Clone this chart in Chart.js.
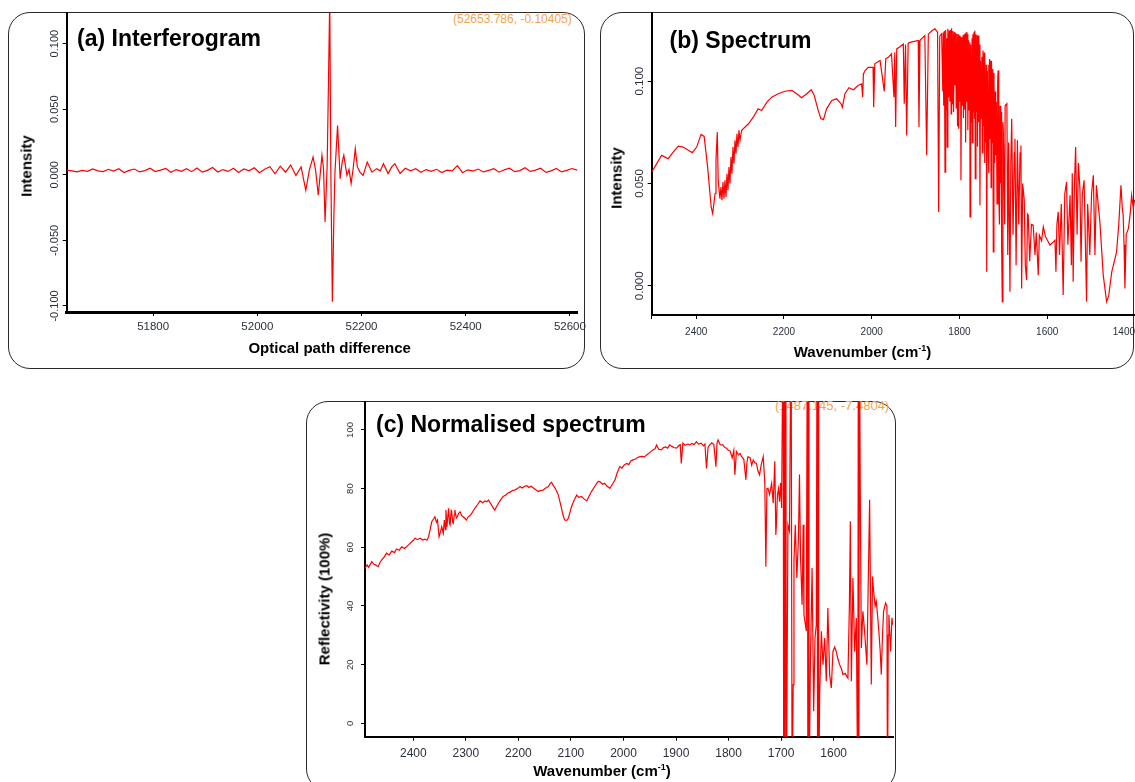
<!DOCTYPE html>
<html lang="en">
<head>
<meta charset="UTF-8">
<title>Interferogram, spectrum and normalised spectrum</title>
<script src="https://cdn.jsdelivr.net/npm/chart.js@4.4.1/dist/chart.umd.min.js"></script>
<style>
  body { margin: 0; background: #fff; font-family: 'Liberation Sans', Arial, sans-serif; }
  #page { position: relative; width: 1135px; height: 782px; overflow: hidden; }
  .frame { position: absolute; box-sizing: border-box; border: 1.5px solid #2a2a2a; border-radius: 22px; }
  canvas { position: absolute; }
  .label { position: absolute; line-height: 1; white-space: nowrap; color: #000; }
  .panel-title { font-size: 23px; font-weight: bold; }
  .axis-title { font-size: 15px; font-weight: bold; transform: translate(-50%, -50%); }
  .axis-title.vertical { transform: translate(-50%, -50%) rotate(-90deg); }
  .cursor { font-size: 12px; color: #f5a34a; }
  .sup { font-size: 9px; position: relative; top: -6px; }
</style>
</head>
<body>
<div id="page">
  <div class="frame" style="left:8px; top:12px; width:577px; height:357px;"></div>
  <div class="frame" style="left:600px; top:12px; width:534px; height:357px;"></div>
  <div class="frame" style="left:306px; top:400.5px; width:590px; height:390px;"></div>

  <div class="label cursor" style="left:453px; top:12.9px;">(52653.786, -0.10405)</div>
  <div class="label cursor" style="left:775px; top:399px; font-size:13px;">(1487.145, -7.4804)</div>

  <canvas id="chartA" width="590" height="369" style="left:8px; top:0;"></canvas>
  <canvas id="chartB" width="535" height="369" style="left:600px; top:0;"></canvas>
  <canvas id="chartC" width="590" height="397" style="left:306px; top:385px;"></canvas>

  <div class="label panel-title" style="left:77px; top:27.3px;">(a) Interferogram</div>
  <div class="label panel-title" style="left:669.6px; top:29px;">(b) Spectrum</div>
  <div class="label panel-title" style="left:376px; top:412.7px;">(c) Normalised spectrum</div>

  <div class="label axis-title" style="left:329.7px; top:347px;">Optical path difference</div>
  <div class="label axis-title vertical" style="left:26.1px; top:166px;">Intensity</div>
  <div class="label axis-title" style="left:862.5px; top:351.2px;">Wavenumber (cm<span class="sup">-1</span>)</div>
  <div class="label axis-title vertical" style="left:616.1px; top:177.7px;">Intensity</div>
  <div class="label axis-title" style="left:602px; top:770.4px;">Wavenumber (cm<span class="sup">-1</span>)</div>
  <div class="label axis-title vertical" style="left:324.4px; top:599.2px;">Reflectivity (100%)</div>
</div>

<script>
  // tick positions for every axis
  const opdTicks = [51800, 52000, 52200, 52400, 52600];
  const opdIntensityTicks = [-0.1, -0.05, 0, 0.05, 0.1];
  const specTicks = [1400, 1600, 1800, 2000, 2200, 2400];
  const specIntensityTicks = [0, 0.05, 0.1];
  const normTicks = [1600, 1700, 1800, 1900, 2000, 2100, 2200, 2300, 2400];
  const reflectivityTicks = [0, 20, 40, 60, 80, 100];

  // (a) interferogram: optical path difference vs detector intensity
  const opd = [
    51634, 51644, 51654, 51664, 51674, 51684, 51694, 51704, 51714, 51724,
    51734, 51744, 51754, 51764, 51774, 51784, 51794, 51804, 51814, 51824,
    51834, 51844, 51854, 51864, 51874, 51884, 51894, 51904, 51914, 51924,
    51934, 51944, 51954, 51964, 51974, 51984, 51994, 52004, 52014, 52024,
    52034, 52044, 52054, 52064, 52074, 52084,
    52093, 52100, 52107, 52112, 52117, 52121, 52124, 52127, 52130, 52134,
    52136, 52139, 52141, 52144, 52147, 52149, 52154, 52159, 52163, 52166,
    52172, 52176, 52180, 52184, 52188, 52192, 52197, 52203, 52211, 52220,
    52229, 52236, 52242, 52251, 52258, 52264, 52274,
    52284, 52294, 52304, 52314, 52324, 52334, 52344, 52354, 52364, 52374,
    52384, 52394, 52404, 52414, 52424, 52434, 52444, 52454, 52464, 52474,
    52484, 52494, 52504, 52514, 52524, 52534, 52544, 52554, 52564, 52574,
    52584, 52594, 52604, 52614
  ];
  const opdIntensity = [
    0.0035, 0.0030, 0.0022, 0.0034, 0.0026, 0.0045, 0.0030, 0.0024, 0.0042, 0.0028,
    0.0046, 0.0018, 0.0034, 0.0044, 0.0022, 0.0032, 0.0050, 0.0025, 0.0036, 0.0048,
    0.0020, 0.0040, 0.0026, 0.0046, 0.0024, 0.0052, 0.0020, 0.0034, 0.0056, 0.0022,
    0.0040, 0.0026, 0.0050, 0.0018, 0.0044, 0.0030, 0.0054, 0.0016, 0.0042, 0.0062,
    0.0008, 0.0066, 0.0020, 0.0074, -0.0005, 0.0060,
    -0.0118, 0.0040, 0.0135, 0.0030, -0.0156, 0.0020, 0.0148, 0.0050, -0.0359, 0.0072,
    0.0567, 0.1350, 0.0050, -0.0967, -0.0300, 0.0020, 0.0376, -0.0029, 0.0100, 0.0148,
    -0.0004, 0.0040, -0.0067, 0.0050, 0.0199, 0.0060, 0.0021, -0.0004, 0.0097, 0.0020,
    0.0047, 0.0030, 0.0085, 0.0009, 0.0060, 0.0085, 0.0010,
    0.0050, 0.0030, 0.0046, 0.0020, 0.0040, 0.0026, 0.0042, 0.0018, 0.0036, 0.0030,
    0.0070, 0.0016, 0.0038, 0.0028, 0.0044, 0.0022, 0.0034, 0.0046, 0.0020, 0.0038,
    0.0050, 0.0024, 0.0032, 0.0054, 0.0026, 0.0036, 0.0050, 0.0018, 0.0030, 0.0048,
    0.0022, 0.0034, 0.0048, 0.0036
  ];

  // (b) raw spectrum
  const specWavenumber = [
    2501.5, 2490, 2479, 2471, 2464, 2452, 2441, 2430, 2418, 2409, 2399, 2389, 2382, 2374, 2366, 2362.5, 2357, 2355, 2352, 2350, 2346,
    2343.6, 2341.4, 2339, 2336.8, 2334.5, 2332.2, 2329.9, 2327.7, 2325.4, 2323.1, 2320.8, 2318.6, 2316.3, 2314, 2311.7, 2309.4, 2307.2, 2304.9, 2302.6, 2300.3, 2296.5,
    2281, 2270, 2259, 2251, 2239, 2228, 2213, 2198, 2182, 2171, 2160, 2148, 2138, 2131, 2123, 2116, 2110, 2103, 2091, 2080,
    2070, 2067, 2061, 2052, 2042, 2031, 2023, 2020.7, 2019, 2015, 2008, 1997, 1995.6, 1993, 1981, 1971.4, 1968, 1962, 1955, 1949.4,
    1947.5, 1945.5, 1943, 1935, 1928, 1925.9, 1923, 1920.4, 1917, 1913, 1903, 1894, 1892.4, 1890, 1879, 1874.8, 1871, 1863, 1856, 1850, 1847.5, 1845, 1840.7,
    1838, 1837, 1836, 1834.5, 1833, 1831.5, 1830, 1829, 1828, 1826.5,
    1825, 1823.5, 1822, 1820.5, 1819, 1818, 1816.5, 1815, 1813.5, 1812,
    1810.5, 1809, 1807.5, 1806, 1804.5, 1803, 1801.9, 1800.5, 1799, 1797.5,
    1796.7, 1795, 1793.5, 1792, 1791, 1789.5, 1788, 1786.5, 1786, 1784.5,
    1783, 1781.5, 1781, 1779.5, 1778, 1776.5, 1776, 1774.5, 1773, 1771.5,
    1771, 1769.5, 1768, 1767, 1766, 1765, 1764, 1762.5, 1761, 1759.5,
    1759, 1757.5, 1756, 1754.5, 1753.4, 1752, 1750.5, 1749, 1748, 1746.5,
    1745, 1743.5, 1743, 1742, 1740, 1739, 1738, 1736.5, 1735, 1733.5,
    1733, 1731.5, 1730, 1729, 1728, 1727, 1725.5, 1724, 1723, 1721.5,
    1720, 1719, 1717.5, 1716, 1714.5, 1713, 1712, 1710.5, 1709, 1707.5,
    1706, 1705, 1704, 1702.5, 1701, 1700,
    1697, 1696, 1692, 1690, 1688, 1685, 1683, 1681, 1678, 1675, 1673.6, 1671, 1668, 1665, 1662, 1660, 1658.4, 1656, 1652.4, 1650,
    1647, 1645, 1643.3, 1640, 1636, 1632, 1628, 1625, 1620.5, 1618, 1613, 1609, 1604, 1599, 1594, 1588, 1582.4, 1580.2, 1578, 1575,
    1572, 1568, 1563.7, 1560, 1556, 1553, 1548, 1545, 1543, 1540.9, 1538, 1535.3, 1532, 1529, 1525.5, 1523, 1520, 1516, 1513, 1510.4,
    1508, 1506.6, 1503, 1499, 1495, 1491.3, 1488, 1484, 1480, 1472.4, 1464.7, 1460, 1453, 1447, 1442, 1437, 1432, 1429, 1427, 1425,
    1423, 1420, 1415, 1411, 1407.7, 1404, 1401
  ];
  const specIntensity = [
    0.0556, 0.0597, 0.0638, 0.0629, 0.0621, 0.0654, 0.0683, 0.0678, 0.0662, 0.0651, 0.0678, 0.0740, 0.0730, 0.0580, 0.0385, 0.0353, 0.0451, 0.0613, 0.0751, 0.0516, 0.0426,
    0.0483, 0.0418, 0.0507, 0.0426, 0.0516, 0.0434, 0.0548, 0.0467, 0.0580, 0.0500, 0.0629, 0.0548, 0.0678, 0.0597, 0.0711, 0.0646, 0.0743, 0.0678, 0.0760, 0.0711, 0.0760,
    0.0792, 0.0824, 0.0865, 0.0857, 0.0898, 0.0922, 0.0939, 0.0951, 0.0955, 0.0939, 0.0919, 0.0939, 0.0958, 0.0930, 0.0865, 0.0817, 0.0812, 0.0865, 0.0906, 0.0914,
    0.0890, 0.0873, 0.0939, 0.0968, 0.0958, 0.0979, 0.0987, 0.0922, 0.1036, 0.1052, 0.1068, 0.1068, 0.0873, 0.1085, 0.1101, 0.0950, 0.1110, 0.1117, 0.1134, 0.0922,
    0.1140, 0.0776, 0.1158, 0.1170, 0.1182, 0.0890, 0.1180, 0.0735, 0.1185, 0.1190, 0.1195, 0.1199, 0.0776, 0.1200, 0.1223, 0.0638, 0.1230, 0.1247, 0.1256, 0.1240, 0.0361, 0.1220, 0.1231,
    0.0950, 0.1238, 0.0880, 0.1245, 0.0556, 0.1250, 0.0860, 0.1210, 0.0678, 0.1256,
    0.0920, 0.1248, 0.0900, 0.1250, 0.0840, 0.1259, 0.0890, 0.1245, 0.0850, 0.1240,
    0.0980, 0.1235, 0.0870, 0.1232, 0.0780, 0.1230, 0.0768, 0.1223, 0.0900, 0.1218,
    0.0516, 0.1215, 0.0880, 0.1225, 0.0820, 0.1230, 0.0860, 0.1235, 0.0700, 0.1239,
    0.0900, 0.1230, 0.0760, 0.1200, 0.0860, 0.1190, 0.0337, 0.1180, 0.0800, 0.1210,
    0.0700, 0.1230, 0.0850, 0.1240, 0.0820, 0.1247, 0.0524, 0.1230, 0.0850, 0.1225,
    0.0680, 0.1223, 0.0800, 0.1180, 0.0394, 0.1100, 0.0820, 0.1120, 0.0650, 0.1150,
    0.0780, 0.1140, 0.0600, 0.1134, 0.0700, 0.1080, 0.0068, 0.1050, 0.0750, 0.1080,
    0.0550, 0.1109, 0.0720, 0.1100, 0.0480, 0.1100, 0.0700, 0.1060, 0.0166, 0.1040,
    0.0600, 0.0950, 0.0638, 0.0900, 0.0400, 0.1000, 0.1052, 0.0450, 0.0300, 0.0880,
    0.0500, 0.0850, 0.0200, -0.0078, 0.0800, 0.0750,
    0.0300, 0.0881, 0.0890, 0.0150, 0.0700, -0.0029, 0.0600, 0.0817, 0.0250, 0.0650, 0.0719, 0.0100, 0.0711, 0.0300, 0.0650, 0.0686, -0.0013, 0.0500, 0.0418, 0.0100,
    0.0028, 0.0350, 0.0345, 0.0120, 0.0300, 0.0296, 0.0150, 0.0260, 0.0052, 0.0247, 0.0220, 0.0288, 0.0240, 0.0220, 0.0199, 0.0210, 0.0223, 0.0068, 0.0300, 0.0361,
    0.0150, 0.0400, -0.0045, 0.0450, 0.0507, 0.0200, 0.0442, 0.0100, 0.0550, 0.0020, 0.0500, 0.0678, 0.0250, 0.0600, 0.0475, 0.0117, 0.0450, 0.0516, 0.0200, -0.0078,
    0.0400, 0.0345, 0.0150, 0.0450, 0.0540, 0.0150, 0.0491, 0.0400, 0.0312, 0.0052, -0.0078, -0.0050, 0.0068, 0.0120, 0.0166, 0.0300, 0.0491, 0.0380, 0.0345, 0.0200,
    -0.0013, 0.0250, 0.0280, 0.0350, 0.0442, 0.0380, 0.0420
  ];

  // (c) spectrum normalised to reflectivity in percent
  const normWavenumber = [
    2492, 2488, 2485, 2479, 2475, 2472, 2467, 2463, 2460, 2455, 2451, 2446, 2441, 2436, 2432, 2427, 2422, 2417, 2413, 2408,
    2403, 2400, 2397, 2392, 2387, 2382, 2378, 2374, 2371, 2368, 2365, 2361, 2359, 2356, 2354, 2351, 2348, 2346, 2343, 2341,
    2339, 2338, 2336, 2333, 2331, 2330, 2328, 2327, 2325, 2324, 2322, 2321, 2318, 2316, 2314, 2311, 2308, 2305, 2302, 2299,
    2296, 2292, 2288, 2283, 2278, 2273, 2268, 2264, 2260, 2257, 2254, 2251, 2248, 2245, 2241, 2238, 2233, 2229, 2224, 2220,
    2216, 2211, 2207, 2202, 2197, 2193, 2188, 2184, 2180, 2176, 2172, 2167, 2162, 2158, 2153, 2148, 2143, 2140, 2137, 2134,
    2130, 2127, 2124, 2121, 2118, 2115, 2112, 2108, 2105, 2102, 2099, 2094, 2089, 2085, 2080, 2075, 2070, 2066, 2061, 2056,
    2051, 2048, 2045, 2040, 2036, 2031, 2026, 2021, 2016, 2012, 2007, 2003, 1999, 1994, 1990, 1986, 1982, 1977, 1973, 1969,
    1964, 1960, 1956, 1952, 1948, 1944, 1940, 1937, 1933, 1928, 1924, 1920, 1916, 1912, 1908, 1904, 1899, 1895, 1892, 1890,
    1887, 1883, 1878, 1874, 1870, 1866, 1861, 1857, 1852, 1848, 1845, 1842, 1839, 1836, 1832, 1828, 1824, 1822, 1820, 1816,
    1811, 1807, 1804, 1801, 1797, 1793, 1790, 1788, 1785, 1781, 1778, 1775, 1771, 1767, 1765, 1763, 1759, 1756, 1753, 1750,
    1747, 1744, 1741, 1738, 1734, 1731, 1729, 1727, 1725, 1722, 1718, 1715, 1712, 1710, 1709, 1707, 1705, 1703, 1701, 1699,
    1698, 1696, 1695, 1694, 1693, 1691, 1690, 1687, 1684, 1681, 1679, 1677, 1675.5, 1673, 1670, 1667, 1665, 1663, 1660, 1658,
    1656.5, 1652, 1650, 1649, 1648, 1647, 1644.3, 1641, 1638, 1635.5, 1633, 1631.5, 1630.5, 1629.5, 1628.5, 1626.6, 1623.4, 1620.3, 1617, 1614,
    1611, 1607.6, 1604.4, 1601.3, 1598, 1595, 1592, 1588.6, 1585, 1582.3, 1578, 1575, 1572.8, 1570, 1568.2, 1566.3, 1563.3, 1560, 1556.8, 1554,
    1553, 1552, 1551, 1549.2, 1547.3, 1544.3, 1541.1, 1536.7, 1531.5, 1528.3, 1526, 1523.9, 1521, 1518.8, 1516, 1513.9, 1511.5, 1509.3, 1507, 1504.9,
    1501.1, 1498.5, 1497.5, 1496, 1494.8, 1491.6, 1489, 1487.5
  ];
  const reflectivity = [
    52.8, 54.0, 53.2, 55.1, 54.2, 54.0, 53.4, 55.0, 55.7, 56.8, 58.0, 57.4, 58.7, 58.2, 59.4, 59.0, 60.2, 59.6, 60.2, 61.0,
    61.9, 62.4, 63.1, 62.6, 63.1, 62.5, 62.8, 62.4, 63.6, 66.0, 68.7, 69.8, 70.4, 68.5, 69.3, 63.6, 65.5, 67.0, 64.8, 69.3,
    66.0, 72.7, 67.0, 73.3, 68.0, 67.6, 72.5, 72.1, 68.5, 68.2, 71.0, 72.7, 70.0, 70.4, 71.5, 72.1, 70.8, 70.4, 69.9, 69.3,
    70.3, 70.8, 71.8, 73.3, 74.5, 75.8, 75.2, 75.8, 75.5, 76.1, 75.2, 74.4, 73.4, 72.7, 74.0, 75.0, 76.4, 77.3, 77.8, 78.5,
    78.8, 79.4, 79.5, 80.0, 80.7, 80.2, 80.8, 81.0, 80.4, 80.8, 80.3, 79.6, 79.0, 79.4, 79.5, 80.2, 80.7, 81.6, 82.2, 81.2,
    80.1, 79.0, 77.8, 75.6, 73.3, 71.0, 69.3, 69.2, 69.9, 71.8, 73.8, 76.0, 77.8, 77.0, 77.3, 76.5, 75.8, 77.2, 79.0, 80.4,
    81.8, 82.5, 82.4, 81.5, 81.8, 80.8, 80.1, 81.5, 83.0, 85.4, 87.5, 87.0, 88.0, 88.6, 88.2, 89.4, 89.8, 90.1, 90.6, 90.9,
    91.0, 90.8, 91.5, 92.0, 92.6, 93.2, 93.6, 94.9, 93.4, 93.2, 94.0, 94.2, 93.8, 94.9, 94.4, 94.0, 93.8, 94.6, 95.0, 88.6,
    95.5, 94.8, 95.2, 94.9, 95.4, 95.0, 96.0, 95.2, 95.5, 94.6, 95.2, 86.9, 94.0, 94.9, 95.6, 95.0, 87.5, 95.4, 96.6, 95.0,
    94.9, 94.0, 93.8, 93.2, 92.8, 90.5, 93.0, 84.7, 92.6, 91.5, 92.0, 90.9, 90.0, 83.0, 89.0, 90.9, 90.5, 88.0, 89.8, 88.9,
    88.6, 86.0, 84.7, 88.0, 90.9, 82.0, 53.4, 80.0, 80.1, 78.0, 81.8, 75.0, 89.3, 64.2, 67.7, 77.8, 80.0, 75.5, 81.9, 73.4,
    98.3, 140, -30, 140, -30, 140, -30, 67.7, 65.5, 140, -30, 13.2, 55.2, 67.7, 49.5, 63.2, 84.8, 56.4, 40.4, 67.7,
    37.0, 31.4, 140, -30, 140, -30, 20.0, 52.9, 4.1, 29.1, 33.6, 140, -30, 140, -30, 9.8, 31.4, 20.0, 29.1, 14.3,
    39.3, 16.6, 12.0, 24.5, 26.0, 24.5, 22.0, 20.0, 18.5, 16.6, 17.0, 16.0, 15.4, 40.0, 68.9, 14.3, 49.5, 24.5, 35.9, -30,
    140, -30, 140, 75.7, 25.7, 38.2, 31.4, 20.0, 76.2, 13.2, 50.0, 45.0, 40.0, 41.6, 36.0, 31.4, 25.0, 16.6, 30.0, 38.2,
    41.0, 40.0, -30, 30.0, 37.0, 24.5, 36.0, 33.6
  ];

  const fontFamily = "'Liberation Sans', Arial, sans-serif";
  const tickColor = '#2a303b';

  // fixed tick list; extra values get an empty label
  function tickList(values, extra) {
    return s => {
      const list = values.slice();
      if (extra) list.push(extra(s));
      s.ticks = list.sort((a, b) => a - b).map(value => ({ value }));
    };
  }

  function xAxis(o) {
    return {
      type: 'linear',
      min: o.min,
      max: o.max,
      reverse: !!o.reverse,
      afterBuildTicks: tickList(o.ticks, o.endTick),
      afterFit: s => { s.height = o.height; },
      border: o.border || { color: '#000', width: 2 },
      grid: { drawOnChartArea: false, tickLength: 4, color: '#000', lineWidth: 1 },
      ticks: {
        autoSkip: false,
        maxRotation: 0,
        align: o.align || 'center',
        padding: o.pad,
        color: tickColor,
        font: { family: fontFamily, size: o.size },
        callback: v => (o.ticks.includes(v) ? String(v) : '')
      }
    };
  }

  function yAxis(o) {
    return {
      min: o.min,
      max: o.max,
      afterBuildTicks: tickList(o.ticks),
      afterFit: s => { s.width = o.width; },
      border: { color: '#000', width: 2 },
      grid: { drawOnChartArea: false, tickLength: 4, color: '#000', lineWidth: 1 },
      ticks: {
        minRotation: 90,
        maxRotation: 90,
        crossAlign: 'center',
        padding: o.pad,
        color: tickColor,
        font: { family: fontFamily, size: o.size },
        callback: o.format
      }
    };
  }

  function drawTrace(id, xs, ys, padding, x, y) {
    return new Chart(document.getElementById(id), {
      type: 'line',
      data: {
        datasets: [{
          data: xs.map((v, i) => ({ x: v, y: ys[i] })),
          borderColor: '#ff0000',
          borderWidth: 1.2,
          pointRadius: 0,
          tension: 0
        }]
      },
      options: {
        responsive: false,
        animation: false,
        events: [],
        layout: { padding: padding },
        plugins: { legend: { display: false }, tooltip: { enabled: false } },
        scales: { x: x, y: y }
      }
    });
  }

  drawTrace('chartA', opd, opdIntensity,
    { left: 0, top: 12.7, right: 20.3, bottom: 0 },
    xAxis({ min: 51634, max: 52615, ticks: opdTicks, height: 57, pad: 4.2, size: 11.5,
            border: { color: '#000', width: 3, dash: [3, 1.5] } }),
    yAxis({ min: -0.1046, max: 0.1236, ticks: opdIntensityTicks, width: 58.7, pad: -7.9, size: 11,
            format: v => v.toFixed(3) }));

  // 'inner' keeps the 1400 label flush with the right edge; the empty
  // tick at the left end of the axis takes the other end slot
  drawTrace('chartB', specWavenumber, specIntensity,
    { left: 0, top: 12.7, right: 0, bottom: 0 },
    xAxis({ min: 1400, max: 2501.5, reverse: true, ticks: specTicks, endTick: s => s.max,
            align: 'inner', height: 54, pad: 7, size: 10 }),
    yAxis({ min: -0.0143, max: 0.1335, ticks: specIntensityTicks, width: 51.7, pad: -6.7, size: 11.5,
            format: v => v.toFixed(3) }));

  drawTrace('chartC', normWavenumber, reflectivity,
    { left: 0, top: 16.5, right: 3, bottom: 0 },
    xAxis({ min: 1487, max: 2492, reverse: true, ticks: normTicks, height: 45.3, pad: 5.5, size: 12 }),
    yAxis({ min: -4.57, max: 109.7, ticks: reflectivityTicks, width: 59, pad: 2.8, size: 9.5,
            format: v => String(v) }));
</script>
</body>
</html>
